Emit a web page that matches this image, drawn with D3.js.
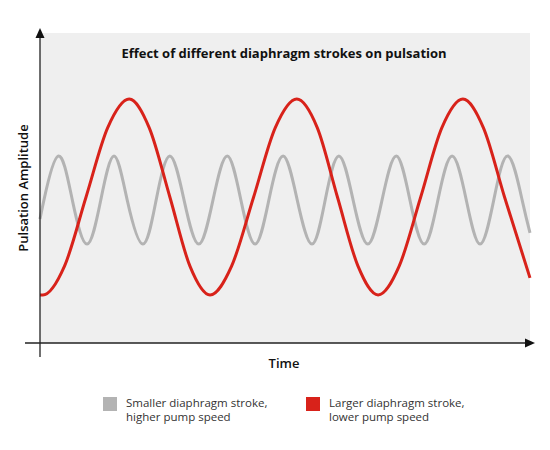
<!DOCTYPE html>
<html>
<head>
<meta charset="utf-8">
<script src="https://cdn.jsdelivr.net/npm/d3@7"></script>
<style>
  body { margin: 0; background: #fff; }
  svg { font-family: "Open Sans", "DejaVu Sans", sans-serif; }
</style>
</head>
<body>
<svg id="chart" width="550" height="450"></svg>
<script>
// values (time 0..100, amplitude 0..10)
var redTime = [0, 0.6, 5.0, 9.4, 13.8, 18.2, 22.3, 26.5, 30.6, 34.7, 39.1, 43.6, 48.0, 52.4,
               56.6, 60.7, 64.9, 69.0, 73.3, 77.7, 82.0, 86.3, 90.5, 94.8, 100];
var redAmp  = [1.55, 1.55, 2.48, 4.71, 6.94, 7.87, 6.94, 4.71, 2.48, 1.55, 2.48, 4.71, 6.94, 7.87,
               6.94, 4.71, 2.48, 1.55, 2.48, 4.71, 6.94, 7.87, 6.94, 4.71, 2.1];

var grayTime = [0, 0.8, 3.7, 6.6, 9.6, 12.4, 15.1, 17.8, 21.0, 23.7, 26.5, 29.4, 32.4, 35.3, 38.2, 41.0,
                43.9, 46.7, 49.6, 52.5, 55.5, 58.2, 61.0, 63.9, 66.9, 69.8, 72.7, 75.5, 78.4, 81.2,
                84.1, 87.0, 89.8, 92.6, 95.5, 98.4, 100];
var grayAmp  = [4.0, 4.61, 6.03, 4.61, 3.19, 4.61, 6.03, 4.61, 3.19, 4.61, 6.03, 4.61, 3.19, 4.61, 6.03, 4.61,
                3.19, 4.61, 6.03, 4.61, 3.19, 4.61, 6.03, 4.61, 3.19, 4.61, 6.03, 4.61, 3.19, 4.61,
                6.03, 4.61, 3.19, 4.61, 6.03, 4.61, 3.55];

var legendLabels = [
  ["Smaller diaphragm stroke,", "higher pump speed"],
  ["Larger diaphragm stroke,", "lower pump speed"]
];
var colors = ["#b3b3b3", "#d8221a"];

var svg = d3.select("#chart");
var pLeft = 40, pRight = 530, pTop = 33, pBottom = 343;

var x = d3.scaleLinear().domain([0, 100]).range([pLeft, pRight]);
var y = d3.scaleLinear().domain([0, 10]).range([pBottom, pTop]);

svg.append("rect")
    .attr("x", pLeft).attr("y", pTop)
    .attr("width", pRight - pLeft).attr("height", pBottom - pTop)
    .attr("fill", "#efefef");

svg.append("text")
    .attr("x", 284).attr("y", 58)
    .attr("text-anchor", "middle")
    .attr("font-size", 13).attr("font-weight", "bold")
    .attr("fill", "#111")
    .text("Effect of different diaphragm strokes on pulsation");

var grayLine = d3.line()
    .x(function(d) { return x(d[0]); })
    .y(function(d) { return y(d[1]); })
    .curve(d3.curveNatural);

var redLine = d3.line()
    .x(function(d) { return x(d[0]); })
    .y(function(d) { return y(d[1]); })
    .curve(d3.curveMonotoneX);

var grayData = d3.zip(grayTime, grayAmp);
var redData = d3.zip(redTime, redAmp);

svg.append("path")
    .attr("d", grayLine(grayData))
    .attr("fill", "none")
    .attr("stroke", colors[0])
    .attr("stroke-width", 3);

svg.append("path")
    .attr("d", redLine(redData))
    .attr("fill", "none")
    .attr("stroke", colors[1])
    .attr("stroke-width", 3);

// axes with arrow heads
svg.append("line")
    .attr("x1", pLeft).attr("y1", 357).attr("x2", pLeft).attr("y2", 36)
    .attr("stroke", "#222").attr("stroke-width", 1.3);
svg.append("path")
    .attr("d", "M" + (pLeft - 4.5) + ",38L" + pLeft + ",28L" + (pLeft + 4.5) + ",38Z")
    .attr("fill", "#111");
svg.append("line")
    .attr("x1", 25).attr("y1", pBottom).attr("x2", 527).attr("y2", pBottom)
    .attr("stroke", "#222").attr("stroke-width", 1.3);
svg.append("path")
    .attr("d", "M525," + (pBottom - 4.5) + "L535," + pBottom + "L525," + (pBottom + 4.5) + "Z")
    .attr("fill", "#111");

svg.append("text")
    .attr("transform", "translate(28,188) rotate(-90)")
    .attr("text-anchor", "middle")
    .attr("font-size", 13).attr("font-weight", 600)
    .attr("fill", "#111")
    .text("Pulsation Amplitude");

svg.append("text")
    .attr("x", 284).attr("y", 368)
    .attr("text-anchor", "middle")
    .attr("font-size", 13).attr("font-weight", 600)
    .attr("fill", "#111")
    .text("Time");

// legend
var legX = [103, 306];
var leg = svg.selectAll("g.leg")
    .data(legendLabels)
    .enter().append("g")
    .attr("class", "leg")
    .attr("transform", function(d, i) { return "translate(" + legX[i] + ",397)"; });

leg.append("rect")
    .attr("width", 14).attr("height", 14)
    .attr("fill", function(d, i) { return colors[i]; });

leg.append("text")
    .attr("x", 23).attr("y", 10)
    .attr("font-size", 11.5)
    .attr("fill", "#333")
    .selectAll("tspan")
    .data(function(d) { return d; })
    .enter().append("tspan")
    .attr("x", 23)
    .attr("dy", function(d, i) { return i ? 14 : 0; })
    .text(function(d) { return d; });
</script>
</body>
</html>
